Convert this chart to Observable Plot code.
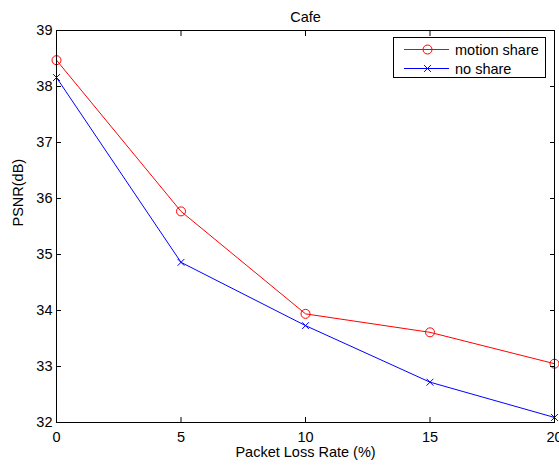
<!DOCTYPE html>
<html>
<head>
<meta charset="utf-8">
<script src="https://cdn.jsdelivr.net/npm/d3@7"></script>
<script src="https://cdn.jsdelivr.net/npm/@observablehq/plot@0.6"></script>
<style>
  html, body { margin: 0; padding: 0; background: #fff; }
  #wrap { position: relative; width: 559px; height: 466px; font-family: "Liberation Sans", Arial, sans-serif; }
  #legend { position: absolute; left: 393px; top: 37px; width: 153px; height: 41px; border: 1px solid #000; background: #fff; box-sizing: border-box; font-size: 14.5px; }
  .row { position: absolute; left: 0; height: 19px; display: flex; align-items: center; }
  .row svg { display: block; }
  .row span { margin-left: 6px; color: #000; }
</style>
</head>
<body>
<div id="wrap"></div>
<script>
const title = "Cafe";
const xLabel = "Packet Loss Rate (%)";
const yLabel = "PSNR(dB)";
const lossRate = [0, 5, 10, 15, 20];
const motionShare = [38.47, 35.77, 33.94, 33.61, 33.05];
const noShare = [38.16, 34.86, 33.73, 32.72, 32.09];
const xTicks = [0, 5, 10, 15, 20];
const yTicks = [32, 33, 34, 35, 36, 37, 38, 39];
const seriesNames = ["motion share", "no share"];
const seriesColors = ["#ff0000", "#0000ff"];
const seriesSymbols = ["circle", "times"];

const rows = [];
lossRate.forEach((x, i) => rows.push({x, y: motionShare[i], s: seriesNames[0]}));
lossRate.forEach((x, i) => rows.push({x, y: noShare[i], s: seriesNames[1]}));
const red = rows.filter(d => d.s === seriesNames[0]);
const blue = rows.filter(d => d.s === seriesNames[1]);
const fs = 14.5;

const chart = Plot.plot({
  width: 559,
  height: 466,
  marginLeft: 56,
  marginRight: 5,
  marginTop: 30,
  marginBottom: 44,
  style: {fontFamily: "'Liberation Sans', Arial, sans-serif", fontSize: fs + "px", color: "#000", background: "#fff"},
  x: {domain: [0, 20]},
  y: {domain: [32, 39]},
  marks: [
    Plot.line(red, {x: "x", y: "y", stroke: seriesColors[0], strokeWidth: 1}),
    Plot.line(blue, {x: "x", y: "y", stroke: seriesColors[1], strokeWidth: 1}),
    Plot.dot(red, {x: "x", y: "y", stroke: seriesColors[0], fill: "none", r: 4.5, symbol: seriesSymbols[0], strokeWidth: 1}),
    Plot.dot(blue, {x: "x", y: "y", stroke: seriesColors[1], fill: "none", r: 3.2, symbol: seriesSymbols[1], strokeWidth: 1}),
    Plot.axisX(xTicks, {anchor: "bottom", tickSize: 0, tickPadding: 9, tickFormat: d3.format("d"), label: null, fill: "#000", fontSize: fs}),
    Plot.axisY(yTicks, {anchor: "left", tickSize: 0, tickPadding: 4, tickFormat: d3.format("d"), label: null, fill: "#000", fontSize: fs}),
    Plot.axisX(xTicks, {anchor: "bottom", tickSize: -5, tickFormat: () => "", label: null, stroke: "#000"}),
    Plot.axisX(xTicks, {anchor: "top", tickSize: -5, tickFormat: () => "", label: null, stroke: "#000"}),
    Plot.axisY(yTicks, {anchor: "left", tickSize: -5, tickFormat: () => "", label: null, stroke: "#000"}),
    Plot.axisY(yTicks, {anchor: "right", tickSize: -5, tickFormat: () => "", label: null, stroke: "#000"}),
    Plot.frame({stroke: "#000", strokeWidth: 1}),
    Plot.text([title], {frameAnchor: "top", dy: -18.5, fill: "#000", fontSize: fs}),
    Plot.text([xLabel], {frameAnchor: "bottom", dy: 34, fill: "#000", fontSize: fs}),
    Plot.text([yLabel], {frameAnchor: "left", dx: -38, rotate: -90, fill: "#000", fontSize: fs})
  ]
});

const wrap = document.getElementById("wrap");
wrap.appendChild(chart);

const legend = document.createElement("div");
legend.id = "legend";
wrap.appendChild(legend);
seriesNames.forEach((name, i) => {
  const row = document.createElement("div");
  row.className = "row";
  row.style.top = (i === 0 ? 2 : 21) + "px";
  const sw = d3.create("svg").attr("width", 55).attr("height", 19);
  sw.append("line").attr("x1", 10).attr("x2", 55).attr("y1", 9.5).attr("y2", 9.5)
    .attr("stroke", seriesColors[i]).attr("stroke-width", 1);
  if (seriesSymbols[i] === "circle") {
    sw.append("circle").attr("cx", 33.5).attr("cy", 9.5).attr("r", 4.5)
      .attr("fill", "none").attr("stroke", seriesColors[i]);
  } else {
    sw.append("path").attr("transform", "translate(33.5,9.5)")
      .attr("d", d3.symbol(d3.symbolTimes, 3.2 * 3.2 * Math.PI)())
      .attr("fill", "none").attr("stroke", seriesColors[i]);
  }
  row.appendChild(sw.node());
  const t = document.createElement("span");
  t.textContent = name;
  row.appendChild(t);
  legend.appendChild(row);
});
</script>
</body>
</html>
